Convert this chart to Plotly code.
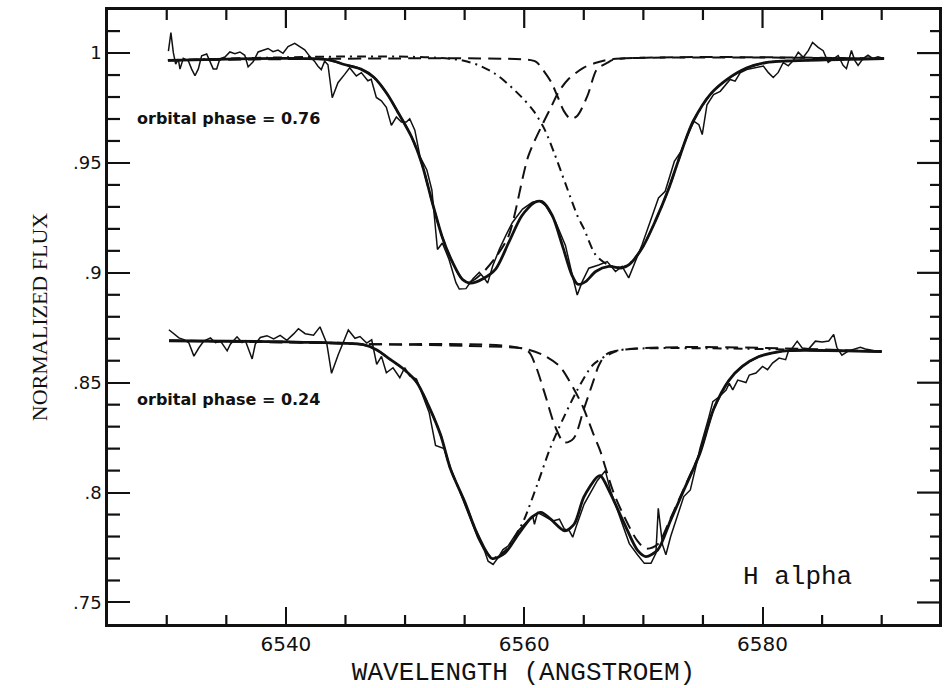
import plotly.graph_objects as go

# ---------------- H alpha profiles at two orbital phases ----------------
# phase 0.76 : observed spectrum
top_obs_wl = [6530.14, 6530.35, 6530.55, 6530.75, 6530.97, 6531.11, 6531.39, 6531.81, 6532.09, 6532.37,
              6532.65, 6532.93, 6533.35, 6533.62, 6533.90, 6534.19, 6534.46, 6534.88, 6535.30, 6535.72,
              6536.14, 6536.55, 6536.83, 6537.25, 6537.67, 6538.09, 6538.50, 6538.92, 6539.34, 6539.76,
              6540.18, 6540.74, 6541.16, 6541.58, 6542.00, 6542.41, 6542.69, 6542.97, 6543.25, 6543.53,
              6543.89, 6544.37, 6544.93, 6545.35, 6545.91, 6546.33, 6546.88, 6547.16, 6547.59, 6548.01,
              6548.43, 6548.85, 6549.27, 6549.69, 6550.11, 6550.39, 6550.82, 6551.26, 6551.83, 6552.25,
              6552.72, 6553.13, 6553.69, 6554.27, 6554.55, 6555.11, 6555.68, 6556.23, 6556.65, 6556.93,
              6557.36, 6557.92, 6558.45, 6559.01, 6559.86, 6560.69, 6561.24, 6561.80, 6562.64, 6563.46,
              6564.03, 6564.45, 6564.87, 6565.42, 6566.25, 6566.96, 6567.66, 6568.22, 6568.77, 6569.33,
              6569.89, 6571.27, 6571.83, 6572.60, 6573.16, 6573.98, 6574.25, 6574.66, 6574.94, 6575.34,
              6575.89, 6576.45, 6577.28, 6577.70, 6578.12, 6578.67, 6579.51, 6580.07, 6580.49, 6580.90,
              6581.32, 6581.74, 6582.16, 6582.58, 6583.00, 6583.42, 6583.84, 6584.20, 6584.67, 6585.09,
              6585.51, 6585.93, 6586.35, 6586.76, 6587.04, 6587.46, 6587.74, 6588.02, 6588.44, 6588.85,
              6589.27, 6589.69, 6590.17]
top_obs_flux = [1.0009, 1.0093, 1.0003, 0.9950, 0.9972, 0.9927, 0.9976, 0.9965, 0.9927, 0.9897,
                0.9928, 0.9988, 0.9996, 0.9958, 0.9928, 0.9928, 0.9974, 0.9982, 1.0005, 0.9997,
                1.0005, 0.9990, 0.9937, 0.9960, 1.0005, 1.0013, 1.0021, 1.0006, 1.0014, 0.9999,
                1.0030, 1.0044, 1.0029, 1.0015, 0.9985, 0.9962, 0.9940, 0.9925, 0.9963, 0.9947,
                0.9797, 0.9865, 0.9903, 0.9933, 0.9896, 0.9911, 0.9874, 0.9881, 0.9798, 0.9783,
                0.9753, 0.9671, 0.9709, 0.9686, 0.9686, 0.9701, 0.9649, 0.9528, 0.9468, 0.9377,
                0.9106, 0.9136, 0.9061, 0.8955, 0.8926, 0.8928, 0.8972, 0.9002, 0.8975, 0.8953,
                0.9032, 0.9108, 0.9169, 0.9229, 0.9290, 0.9321, 0.9328, 0.9306, 0.9231, 0.9125,
                0.8990, 0.8899, 0.8960, 0.9021, 0.9036, 0.9051, 0.9006, 0.9029, 0.8977, 0.9052,
                0.9128, 0.9341, 0.9371, 0.9507, 0.9553, 0.9659, 0.9689, 0.9674, 0.9629, 0.9765,
                0.9811, 0.9826, 0.9880, 0.9872, 0.9910, 0.9925, 0.9933, 0.9941, 0.9911, 0.9889,
                0.9912, 0.9957, 0.9942, 0.9966, 1.0004, 0.9981, 1.0011, 1.0048, 1.0026, 1.0011,
                0.9958, 0.9974, 0.9989, 0.9944, 0.9929, 1.0012, 0.9967, 0.9944, 0.9975, 0.9990,
                0.9975, 0.9983, 0.9975]

# phase 0.76 : total fit
top_fit_wl = [6530.1, 6543.5, 6544.9, 6546.3, 6547.4, 6548.5, 6549.4, 6550.55, 6551.4, 6552.3,
              6553.1, 6554.0, 6554.8, 6555.5, 6556.5, 6557.6, 6558.7, 6559.8, 6560.9, 6561.5,
              6562.35, 6563.2, 6564.0, 6564.5, 6565.15, 6566.0, 6567.1, 6568.2, 6568.8, 6569.9,
              6571.0, 6572.1, 6572.9, 6573.7, 6574.2, 6575.6, 6577.0, 6578.7, 6580.3, 6582.0, 6590.2]
top_fit_flux = [0.9967, 0.9970, 0.9948, 0.9927, 0.9889, 0.9814, 0.9731, 0.9618, 0.9498, 0.9317,
                0.9166, 0.9046, 0.8971, 0.8953, 0.8972, 0.9017, 0.9138, 0.9260, 0.9321, 0.9324,
                0.9261, 0.9125, 0.8990, 0.8948, 0.8960, 0.9006, 0.9029, 0.9022, 0.9037, 0.9113,
                0.9235, 0.9379, 0.9505, 0.9628, 0.9692, 0.9811, 0.9879, 0.9933, 0.9957, 0.9964, 0.9975]

# phase 0.76 : blue component (dashed)
top_blue_wl = [6530.1, 6543.5, 6544.9, 6546.3, 6547.4, 6548.5, 6549.4, 6550.55, 6551.4, 6552.3,
               6553.1, 6554.0, 6554.8, 6555.5, 6556.5, 6557.6, 6558.7, 6560.35, 6561.6, 6562.3,
               6562.85, 6563.7, 6565.0, 6566.1, 6567.5, 6590.2]
top_blue_flux = [0.9967, 0.9970, 0.9948, 0.9927, 0.9889, 0.9814, 0.9731, 0.9618, 0.9498, 0.9317,
                 0.9166, 0.9046, 0.8971, 0.8960, 0.9000, 0.9070, 0.9169, 0.9532, 0.9683, 0.9759,
                 0.9820, 0.9881, 0.9934, 0.9957, 0.9973, 0.9975]

# phase 0.76 : red component (dash-dot)
top_red_wl = [6530.1, 6554.7, 6557.5, 6559.7, 6560.8, 6561.7, 6562.5, 6563.5, 6564.5, 6565.0,
              6566.0, 6567.1, 6568.2, 6568.8, 6569.9, 6571.0, 6572.1, 6572.9, 6573.7, 6574.2,
              6575.6, 6577.0, 6578.7, 6580.3, 6582.0, 6590.2]
top_red_flux = [0.9967, 0.9968, 0.9908, 0.9804, 0.9736, 0.9654, 0.9548, 0.9400, 0.9255, 0.9202,
                0.9081, 0.9035, 0.9025, 0.9040, 0.9113, 0.9235, 0.9379, 0.9505, 0.9628, 0.9692,
                0.9811, 0.9879, 0.9933, 0.9957, 0.9964, 0.9975]

# phase 0.76 : narrow component (dashed)
top_narrow_wl = [6530.1, 6560.2, 6561.0, 6561.65, 6562.29, 6562.78, 6563.32, 6563.89, 6564.46, 6565.31,
                 6566.11, 6566.95, 6567.52, 6590.2]
top_narrow_flux = [0.9967, 0.9970, 0.9960, 0.9918, 0.9865, 0.9805, 0.9737, 0.9700, 0.9715, 0.9806,
                   0.9927, 0.9955, 0.9970, 0.9975]

# phase 0.24 : observed spectrum
low_obs_wl = [6530.18, 6530.60, 6531.02, 6531.44, 6531.86, 6532.28, 6532.70, 6533.11, 6533.67, 6534.09,
              6534.50, 6535.07, 6535.34, 6535.90, 6536.32, 6536.60, 6537.02, 6537.17, 6537.43, 6537.85,
              6538.41, 6538.97, 6539.52, 6540.08, 6540.65, 6541.05, 6541.62, 6542.32, 6542.86, 6543.43,
              6543.83, 6544.39, 6545.24, 6545.80, 6546.22, 6546.78, 6547.20, 6547.62, 6548.02, 6548.43,
              6548.99, 6549.56, 6549.97, 6550.39, 6550.96, 6551.52, 6552.02, 6552.56, 6553.27, 6553.83,
              6555.00, 6556.10, 6556.69, 6556.97, 6557.39, 6557.81, 6558.22, 6558.64, 6559.47, 6560.30,
              6560.71, 6560.86, 6561.12, 6561.68, 6562.39, 6562.95, 6563.37, 6563.79, 6564.07, 6564.34,
              6565.03, 6566.13, 6566.81, 6567.24, 6568.39, 6568.82, 6569.52, 6570.08, 6570.64, 6571.05,
              6571.25, 6571.61, 6571.89, 6572.29, 6573.39, 6573.94, 6574.47, 6574.75, 6575.43, 6575.83,
              6576.39, 6576.94, 6577.21, 6577.50, 6577.92, 6578.61, 6578.89, 6579.45, 6580.00, 6580.42,
              6580.84, 6581.39, 6581.94, 6582.17, 6582.50, 6582.91, 6583.33, 6583.88, 6584.44, 6585.00,
              6585.56, 6585.97, 6586.24, 6586.66, 6587.22, 6587.79, 6588.21, 6588.63, 6589.19, 6589.74]
low_obs_flux = [0.8741, 0.8721, 0.8704, 0.8696, 0.8681, 0.8621, 0.8659, 0.8689, 0.8704, 0.8682,
                0.8690, 0.8645, 0.8675, 0.8709, 0.8683, 0.8691, 0.8623, 0.8608, 0.8676, 0.8706,
                0.8714, 0.8699, 0.8715, 0.8693, 0.8722, 0.8746, 0.8723, 0.8716, 0.8754, 0.8679,
                0.8543, 0.8627, 0.8740, 0.8702, 0.8710, 0.8680, 0.8695, 0.8583, 0.8620, 0.8545,
                0.8568, 0.8523, 0.8568, 0.8531, 0.8517, 0.8441, 0.8365, 0.8215, 0.8200, 0.8111,
                0.7945, 0.7795, 0.7732, 0.7688, 0.7673, 0.7704, 0.7741, 0.7756, 0.7825, 0.7870,
                0.7894, 0.7856, 0.7909, 0.7893, 0.7871, 0.7879, 0.7834, 0.7826, 0.7797, 0.7842,
                0.7948, 0.8054, 0.8099, 0.8009, 0.7829, 0.7768, 0.7716, 0.7678, 0.7678, 0.7724,
                0.7928, 0.7762, 0.7717, 0.7800, 0.7982, 0.8012, 0.8133, 0.8201, 0.8330, 0.8414,
                0.8437, 0.8467, 0.8497, 0.8467, 0.8512, 0.8501, 0.8535, 0.8544, 0.8574, 0.8559,
                0.8589, 0.8612, 0.8605, 0.8643, 0.8658, 0.8689, 0.8658, 0.8654, 0.8689, 0.8685,
                0.8690, 0.8720, 0.8660, 0.8625, 0.8645, 0.8656, 0.8661, 0.8653, 0.8646, 0.8642]

# phase 0.24 : total fit
low_fit_wl = [6530.2, 6540.9, 6546.5, 6547.6, 6548.75, 6549.9, 6551.0, 6552.1, 6553.0, 6553.8,
              6555.0, 6556.1, 6557.3, 6558.4, 6559.5, 6560.6, 6561.4, 6562.2, 6563.4, 6564.2,
              6565.0, 6566.1, 6566.4, 6567.25, 6568.4, 6569.5, 6570.2, 6571.2, 6572.3, 6573.4,
              6574.75, 6575.9, 6577.2, 6578.3, 6579.7, 6581.1, 6582.2, 6590.0]
low_fit_flux = [0.8691, 0.8685, 0.8673, 0.8650, 0.8606, 0.8561, 0.8500, 0.8380, 0.8260, 0.8109,
                0.7959, 0.7808, 0.7700, 0.7726, 0.7810, 0.7886, 0.7910, 0.7880, 0.7826, 0.7857,
                0.7979, 0.8070, 0.8077, 0.7994, 0.7859, 0.7738, 0.7709, 0.7739, 0.7876, 0.8012,
                0.8179, 0.8380, 0.8512, 0.8574, 0.8619, 0.8638, 0.8646, 0.8642]

# phase 0.24 : blue component (dash-dot)
low_blue_wl = [6530.2, 6540.9, 6546.5, 6547.6, 6548.75, 6549.9, 6551.0, 6552.1, 6553.0, 6553.8,
               6555.0, 6556.1, 6557.3, 6558.4, 6559.5, 6560.0, 6561.1, 6562.2, 6563.3, 6564.4,
               6565.8, 6567.4, 6568.5, 6590.0]
low_blue_flux = [0.8691, 0.8685, 0.8673, 0.8650, 0.8606, 0.8561, 0.8500, 0.8380, 0.8260, 0.8109,
                 0.7959, 0.7808, 0.7703, 0.7735, 0.7825, 0.7878, 0.8037, 0.8205, 0.8340, 0.8461,
                 0.8583, 0.8636, 0.8652, 0.8642]

# phase 0.24 : red component (dashed)
low_red_wl = [6530.2, 6540.9, 6546.5, 6555.0, 6560.0, 6561.6, 6562.97, 6564.12, 6564.96, 6565.82,
              6566.38, 6566.81, 6567.5, 6568.4, 6569.5, 6570.2, 6571.2, 6572.3, 6573.4, 6574.75,
              6575.9, 6577.2, 6578.3, 6579.7, 6581.1, 6582.2, 6590.0]
low_red_flux = [0.8691, 0.8685, 0.8676, 0.8668, 0.8655, 0.8626, 0.8575, 0.8476, 0.8386, 0.8265,
                0.8190, 0.8115, 0.8000, 0.7890, 0.7780, 0.7745, 0.7765, 0.7885, 0.8018, 0.8182,
                0.8380, 0.8512, 0.8574, 0.8619, 0.8638, 0.8646, 0.8642]

# phase 0.24 : narrow component (dashed)
low_narrow_wl = [6530.2, 6546.5, 6560.2, 6560.9, 6561.7, 6562.6, 6563.35, 6564.15, 6565.0, 6565.8,
                 6566.3, 6567.1, 6590.0]
low_narrow_flux = [0.8691, 0.8676, 0.8648, 0.8585, 0.8455, 0.8300, 0.8228, 0.8247, 0.8379, 0.8507,
                   0.8583, 0.8636, 0.8642]

# axis ticks and labels
x_tick_vals = [6540, 6560, 6580]
x_minor_vals = [6530, 6535, 6545, 6550, 6555, 6565, 6570, 6575, 6585, 6590]
y_tick_vals = [0.75, 0.8, 0.85, 0.9, 0.95, 1.0]
y_tick_text = [".75", ".8", ".85", ".9", ".95", "1"]
y_minor_vals = [0.76, 0.77, 0.78, 0.79, 0.81, 0.82, 0.83, 0.84, 0.86, 0.87, 0.88, 0.89,
                0.91, 0.92, 0.93, 0.94, 0.96, 0.97, 0.98, 0.99, 1.01]

phase_labels = ["orbital phase = 0.76", "orbital phase = 0.24"]
phase_label_wl = [6527.3, 6527.3]
phase_label_flux = [0.9702, 0.8422]

X_RANGE = [6525.07, 6594.81]
Y_RANGE = [0.7402, 1.0196]

INK = "#111111"
DASH = "13px,7px"
DASHDOT = "9px,5px,2px,5px"

fig = go.Figure()


def curve(x, y, width, dash="solid", shape="spline"):
    fig.add_trace(go.Scatter(
        x=x, y=y, mode="lines",
        line=dict(color=INK, width=width, dash=dash, shape=shape, smoothing=0.8),
        showlegend=False, hoverinfo="skip"))


# component profiles
curve(top_blue_wl, top_blue_flux, 2.0, DASH)
curve(top_red_wl, top_red_flux, 2.0, DASHDOT)
curve(top_narrow_wl, top_narrow_flux, 2.0, DASH)
curve(low_blue_wl, low_blue_flux, 2.0, DASHDOT)
curve(low_red_wl, low_red_flux, 2.0, DASH)
curve(low_narrow_wl, low_narrow_flux, 2.0, DASH)

# observed spectra
curve(top_obs_wl, top_obs_flux, 1.5, "solid", "linear")
curve(low_obs_wl, low_obs_flux, 1.5, "solid", "linear")

# total fits
curve(top_fit_wl, top_fit_flux, 2.8)
curve(low_fit_wl, low_fit_flux, 2.8)

for txt, wx, fy in zip(phase_labels, phase_label_wl, phase_label_flux):
    fig.add_annotation(x=wx, y=fy, xref="x", yref="y", text=txt, showarrow=False,
                       xanchor="left", yanchor="middle",
                       font=dict(family="DejaVu Sans", size=16, color=INK, weight="bold"))

fig.add_annotation(x=6578.2, y=0.7614, xref="x", yref="y", text="H alpha", showarrow=False,
                   xanchor="left", yanchor="middle",
                   font=dict(family="Liberation Mono", size=26, color=INK))


# frame ticks: minor ticks on all sides, major ticks on the top and right edges
def x_tick(v, edge, length):
    fig.add_shape(type="line", xref="x", yref="paper", layer="above",
                  x0=v, x1=v, ysizemode="pixel", yanchor=edge,
                  y0=0, y1=length if edge == 0 else -length,
                  line=dict(color=INK, width=2.2))


def y_tick(v, edge, length):
    fig.add_shape(type="line", xref="paper", yref="y", layer="above",
                  y0=v, y1=v, xsizemode="pixel", xanchor=edge,
                  x0=0, x1=length if edge == 0 else -length,
                  line=dict(color=INK, width=2.2))


for v in x_minor_vals:
    x_tick(v, 0, 9)
    x_tick(v, 1, 10)
for v in x_tick_vals:
    x_tick(v, 1, 18)
for v in y_minor_vals:
    y_tick(v, 0, 12)
    y_tick(v, 1, 9)
for v in y_tick_vals:
    y_tick(v, 1, 22)

fig.update_layout(
    width=945, height=688,
    margin=dict(l=108, r=3, t=10, b=61),
    paper_bgcolor="white", plot_bgcolor="white",
    showlegend=False,
)

fig.update_xaxes(
    range=X_RANGE, tickmode="array", tickvals=x_tick_vals,
    showgrid=False, zeroline=False,
    showline=True, linecolor=INK, linewidth=2.5, mirror=True,
    ticks="inside", ticklen=17, tickwidth=2.2, tickcolor=INK,
    tickfont=dict(family="DejaVu Sans", size=20, color=INK),
    title=dict(text="WAVELENGTH (ANGSTROEM)", standoff=11,
               font=dict(family="Liberation Mono", size=26, color=INK)),
)

fig.update_yaxes(
    range=Y_RANGE, tickmode="array", tickvals=y_tick_vals, ticktext=y_tick_text,
    showgrid=False, zeroline=False,
    showline=True, linecolor=INK, linewidth=2.5, mirror=True,
    ticks="inside", ticklen=22, tickwidth=2.2, tickcolor=INK,
    tickfont=dict(family="DejaVu Sans", size=18, color=INK),
    title=dict(text="NORMALIZED FLUX", standoff=20,
               font=dict(family="Liberation Serif", size=22, color=INK)),
)

fig.write_html("out.html")
